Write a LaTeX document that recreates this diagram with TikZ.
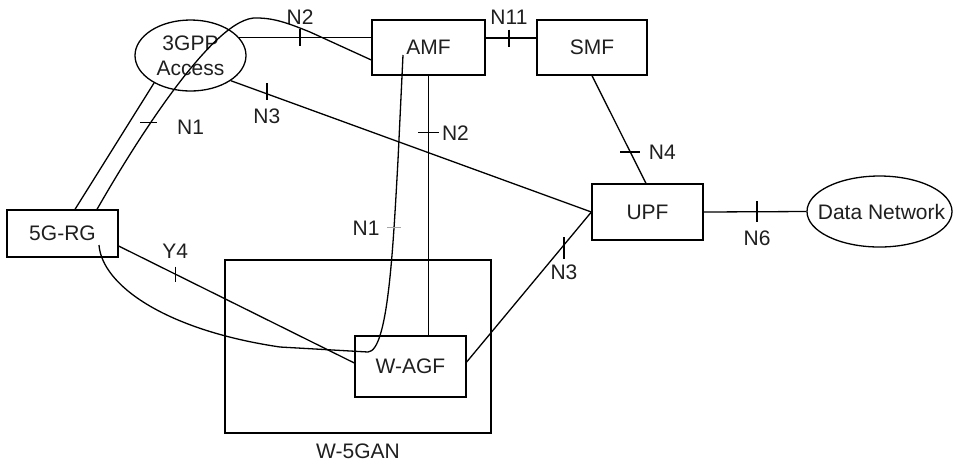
\documentclass[tikz,border=0pt]{standalone}
\usepackage{fontspec}
\setmainfont{Liberation Sans}
\usetikzlibrary{calc,shapes.geometric}
\begin{document}
\begin{tikzpicture}[x=0.5pt,y=-0.5pt,
  line width=0.65pt,
  every node/.style={font=\fontsize{10.5}{12.5}\selectfont, text=black!88},
  box/.style={draw, rectangle, inner sep=0pt},
  oval/.style={draw, ellipse, inner sep=0pt},
  lbl/.style={inner sep=0pt, align=center},
  faint/.style={draw=black!35}]

\useasboundingbox (0,0) rectangle (953,463);

% access network frame
\node[box, minimum width=133pt, minimum height=86.5pt] (wgan) at (358,346.5) {};
\node[lbl] (wganlbl) at ($(wgan.south)+(0,18)$) {W-5GAN};

% network functions
\node[box, minimum width=56.5pt, minimum height=27.5pt] (amf)  at (428.5,47.5) {AMF};
\node[box, minimum width=55pt,   minimum height=27.5pt] (smf)  at (592,47.5)   {SMF};
\node[box, minimum width=55.5pt, minimum height=28pt]   (upf)  at (647.5,212)  {UPF};
\node[box, minimum width=55.5pt, minimum height=23.5pt] (rg)   at (62.5,233.5) {5G-RG};
\node[box, minimum width=55.5pt, minimum height=30.5pt] (wagf) at (410.5,366.5) {W-AGF};

% ellipses, sized independently of their text
\node[oval, minimum width=55.5pt, minimum height=35.5pt] (gpp) at (190.5,55.5) {};
\node[lbl] (gpptext) at (gpp.center) {3GPP\\Access};
\node[oval, minimum width=72.5pt, minimum height=35.5pt] (dn)  at (879.5,211.5) {};
\node[lbl] (dntext) at ($(dn.center)+(2,0)$) {Data Network};

% N2: 3GPP Access -- AMF
\draw (gpp.20) -- coordinate[pos=0.46] (tN2a) (gpp.20 -| amf.west);
\draw ($(tN2a)+(0,-8.5)$) -- ($(tN2a)+(0,8.5)$);
\node[lbl] (lN2a) at ($(tN2a)+(0,-21)$) {N2};

% N11: AMF -- SMF
\coordinate (amfN11) at ($(amf.east)+(0,-9.5)$);
\draw (amfN11) -- coordinate[pos=0.46] (tN11) (amfN11 -| smf.west);
\draw ($(tN11)+(0,-8.5)$) -- ($(tN11)+(0,8.5)$);
\node[lbl] (lN11) at ($(tN11)+(0,-21)$) {N11};

% N4: SMF -- UPF
\draw (smf.south) -- coordinate[pos=0.71] (tN4) ($(upf.north)+(-1.5,0)$);
\draw ($(tN4)+(-10,0)$) -- ($(tN4)+(10,0)$);
\node[lbl] (lN4) at ($(tN4)+(32,0)$) {N4};

% N6: UPF -- Data Network
\draw (upf.east) -- coordinate[pos=0.52] (tN6) (dn.west);
\draw ($(tN6)+(0,-10.5)$) -- ($(tN6)+(0,10.5)$);
\node[lbl] (lN6) at ($(tN6)+(0,27)$) {N6};

% N3: 3GPP Access -- UPF
\draw (gpp.-32) -- coordinate[pos=0.10] (tN3a) (upf.west);
\draw ($(tN3a)+(0,-10.5)$) -- ($(tN3a)+(0,6.5)$);
\node[lbl] (lN3a) at ($(tN3a)+(0,22)$) {N3};

% N3: W-AGF -- UPF
\draw ($(wagf.east)+(0,-4.5)$) -- coordinate[pos=0.78] (tN3b) (upf.west);
\draw ($(tN3b)+(0,-8)$) -- ($(tN3b)+(0,14)$);
\node[lbl] (lN3b) at ($(tN3b)+(0,27)$) {N3};

% Y4: 5G-RG -- W-AGF
\draw ($(rg.east)+(0,12.5)$) -- coordinate[pos=0.24] (tY4) ($(wagf.west)+(0,-3.5)$);
\draw ($(tY4)+(0,-7.5)$) -- ($(tY4)+(0,7.5)$);
\node[lbl] (lY4) at ($(tY4)+(0,-23)$) {Y4};

% N2: AMF -- W-AGF
\draw (amf.south) -- coordinate[pos=0.22] (tN2b) (amf.south |- wagf.north);
\draw ($(tN2b)+(-10.5,0)$) -- ($(tN2b)+(10.5,0)$);
\node[lbl] (lN2b) at ($(tN2b)+(27,0)$) {N2};

% N1 over 3GPP access: 5G-RG -- 3GPP Access, and 5G-RG -- AMF
\draw ($(rg.north)+(12.5,0)$) -- (gpp.217);
\draw ($(rg.north)+(34.5,0)$)
      .. controls ($(rg.north)+(72.5,-66.5)$) and (215,15) .. coordinate[pos=0.36] (tN1a) (257,18)
      .. controls (275,18) and (290,24) .. (310,32)
      -- ($(amf.west)+(0,12.5)$);
\draw ($(tN1a)+(-10.5,0)$) -- ($(tN1a)+(6.5,0)$);
\node[lbl] (lN1a) at ($(tN1a)+(40,5)$) {N1};

% N1 through W-AGF: 5G-RG -- AMF
\draw ($(rg.center)+(36.5,11.5)$)
      .. controls (102,285) and (165,330) .. (280,347)
      -- (368,352)
      .. controls (388,351) and (393,250) .. coordinate[pos=0.75] (tN1b) (398,160)
      -- ($(amf.center)+(-25.5,7.5)$);
\draw[faint] ($(tN1b)+(-7,0)$) -- ($(tN1b)+(7,0)$);
\node[lbl] (lN1b) at ($(tN1b)+(-28,0)$) {N1};

\end{tikzpicture}
\end{document}
